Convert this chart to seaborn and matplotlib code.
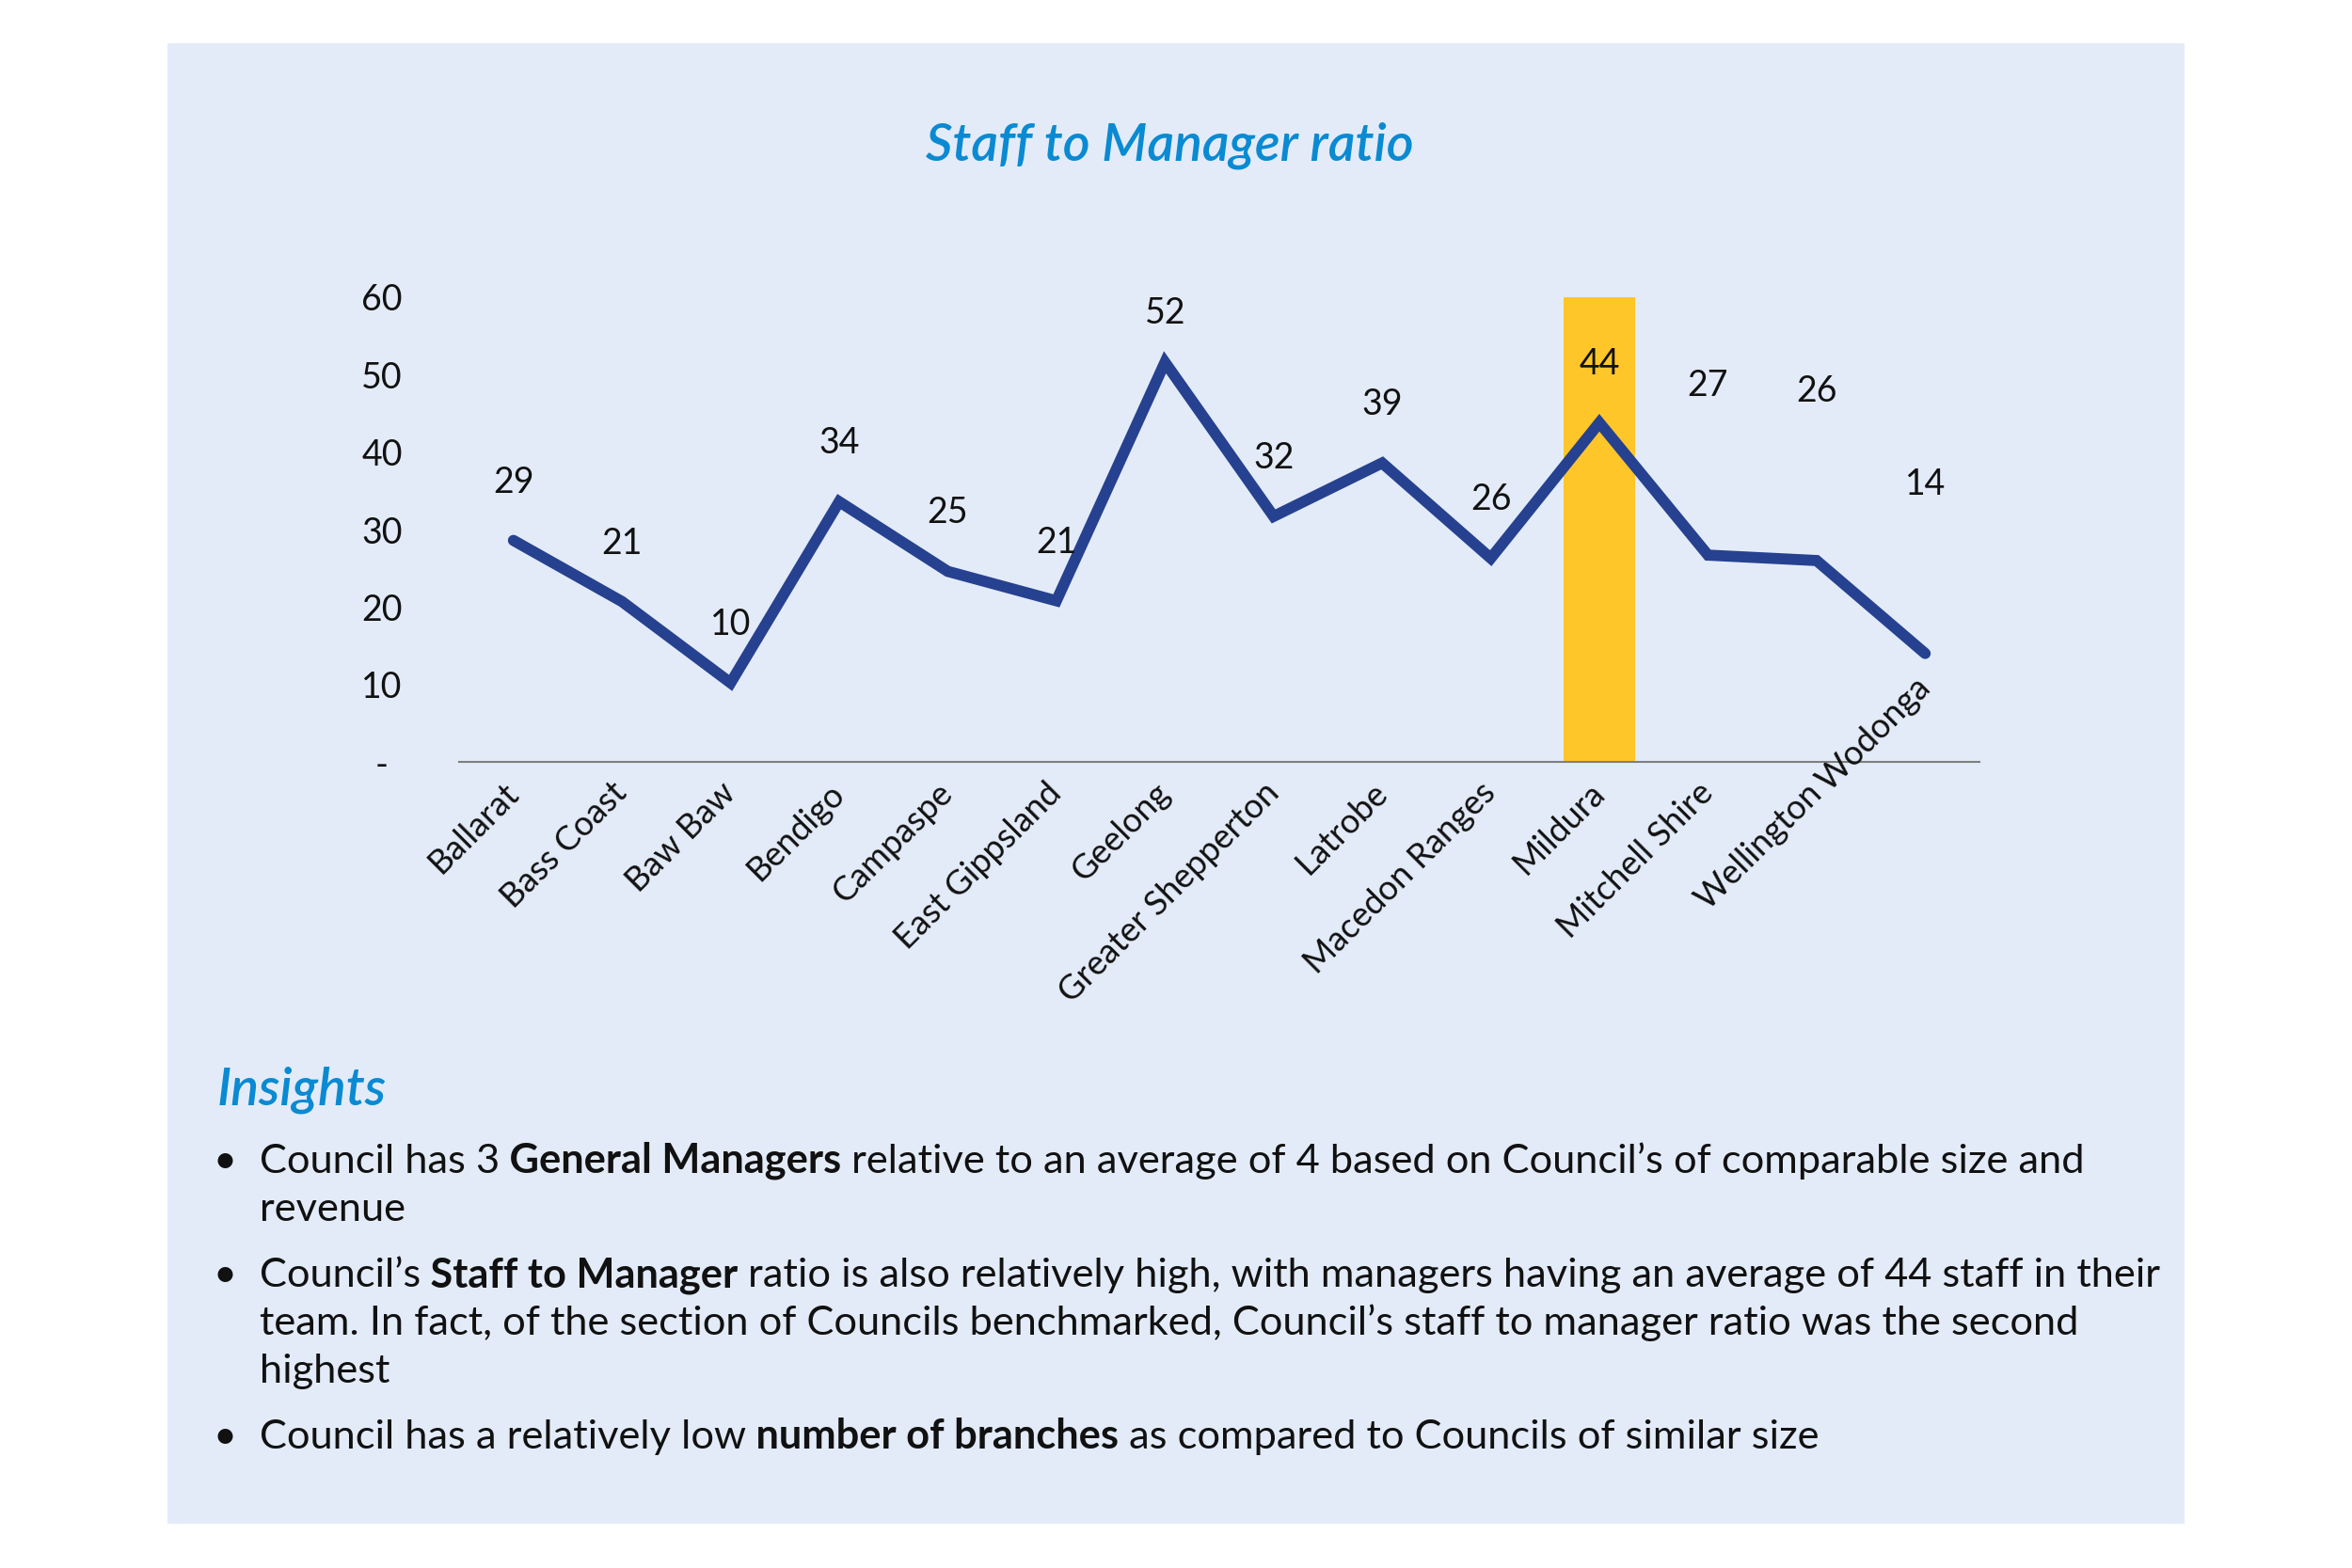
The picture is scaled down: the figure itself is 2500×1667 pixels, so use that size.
import numpy as np
import matplotlib
matplotlib.use("Agg")
import matplotlib.pyplot as plt
from matplotlib.patches import Rectangle
import seaborn as sns

# data
councils = ["Ballarat", "Bass Coast", "Baw Baw", "Bendigo", "Campaspe", "East Gippsland",
            "Geelong", "Greater Shepperton", "Latrobe", "Macedon Ranges", "Mildura",
            "Mitchell Shire", "Wellington", "Wodonga"]
ratio = [28.6, 20.7, 10.2, 33.6, 24.6, 20.8, 51.6, 31.7, 38.6, 26.3, 43.8, 26.7, 26.0, 14.0]
highlight = "Mildura"
y_ticks = [0, 10, 20, 30, 40, 50, 60]
y_tick_labels = ["-", "10", "20", "30", "40", "50", "60"]

title = "Staff to Manager ratio"
insights_title = "Insights"
# each bullet: list of lines, each line: list of (text, bold) runs
insights = [
    [[("Council has 3", False), (" General Managers", True),
      (" relative to an average of 4 based on Council\u2019s of comparable size and", False)],
     [("revenue", False)]],
    [[("Council\u2019s", False), (" Staff to Manager", True),
      (" ratio is also relatively high, with managers having an average of 44 staff in their", False)],
     [("team. In fact, of the section of Councils benchmarked, Council\u2019s staff to manager ratio was the second", False)],
     [("highest", False)]],
    [[("Council has a relatively low", False), (" number of branches", True),
      (" as compared to Councils of similar size", False)]],
]

# styling
W, H = 2500, 1667
panel_bg = "#E3EBF8"
line_col = "#26418F"
bar_col = "#FFC629"
blue = "#0A8AD2"
ink = "#111111"
label_lift_px = [62, 62, 62, 62, 62, 62, 52, 62, 62, 62, 62, 180, 180, 180]

sns.set_style("white")
plt.rcParams["font.family"] = ["Lato", "DejaVu Sans"]

fig = plt.figure(figsize=(W / 100, H / 100), dpi=100, facecolor="white")
fig.patches.append(Rectangle((178 / W, 1 - 1620 / H), (2322 - 178) / W, (1620 - 46) / H,
                             transform=fig.transFigure, facecolor=panel_bg, edgecolor="none",
                             zorder=-10))

ax = fig.add_axes([488 / W, 1 - 810 / H, (2104 - 488) / W, (810 - 316) / H])
ax.set_facecolor("none")
ax.set_zorder(2)

n = len(councils)
bar_heights = [y_ticks[-1] if c == highlight else 0 for c in councils]
sns.barplot(x=councils, y=bar_heights, color=bar_col, width=0.66, linewidth=0,
            saturation=1, ax=ax, zorder=1)
sns.lineplot(x=np.arange(n), y=ratio, color=line_col, linewidth=8.5, ax=ax,
             solid_capstyle="round", solid_joinstyle="miter", zorder=3)

for i, v in enumerate(ratio):
    ax.annotate(f"{v:.0f}", xy=(i, v), xytext=(0, label_lift_px[i] * 0.72),
                textcoords="offset points", ha="center", va="center",
                fontsize=27, color=ink, clip_on=False, zorder=4)

ax.set_xlim(-0.5, n - 0.5)
ax.set_ylim(0, 60)
ax.set_xlabel("")
ax.set_ylabel("")
for s in ["left", "top", "right"]:
    ax.spines[s].set_visible(False)
ax.spines["bottom"].set_color("#7F7F7F")
ax.spines["bottom"].set_linewidth(1.5)

ax.set_xticks(range(n))
ax.set_xticklabels(councils[:-1] + [""], rotation=45, ha="right", va="center",
                   rotation_mode="anchor", fontsize=26, color=ink)
ax.tick_params(axis="x", length=0, pad=20)
# last label sits higher, running on from the one before it
ax.annotate(councils[-1], xy=(n - 1, 0), xytext=(0, 61),
            textcoords="offset points", rotation=45, ha="right", va="center",
            rotation_mode="anchor", fontsize=26, color=ink, annotation_clip=False)

ax.set_yticks(y_ticks)
ax.set_yticklabels(y_tick_labels, fontsize=27, color=ink)
ax.tick_params(axis="y", length=0, pad=59)
for lbl in ax.get_yticklabels():
    lbl.set_ha("center")

fig.text(1243 / W, 1 - 170 / H, title, ha="center", va="baseline", fontsize=40,
         fontweight="semibold", fontstyle="italic", color=blue)
fig.text(231 / W, 1 - 1175 / H, insights_title, ha="left", va="baseline", fontsize=40,
         fontweight="semibold", fontstyle="italic", color=blue)

renderer = fig.canvas.get_renderer()


def rich_line(x_px, base_px, runs, size=31.2):
    x = x_px
    for text, bold in runs:
        t = fig.text(x / W, 1 - base_px / H, text, ha="left", va="baseline", fontsize=size,
                     fontweight="bold" if bold else "normal", color=ink)
        x += t.get_window_extent(renderer).width


base = 1247
for bullet in insights:
    fig.text(239 / W, 1 - base / H, "\u2022", ha="center", va="baseline", fontsize=31, color=ink)
    for line in bullet:
        rich_line(276, base, line)
        base += 51
    base += 19

fig.savefig("out.png", dpi=100, facecolor="white")
